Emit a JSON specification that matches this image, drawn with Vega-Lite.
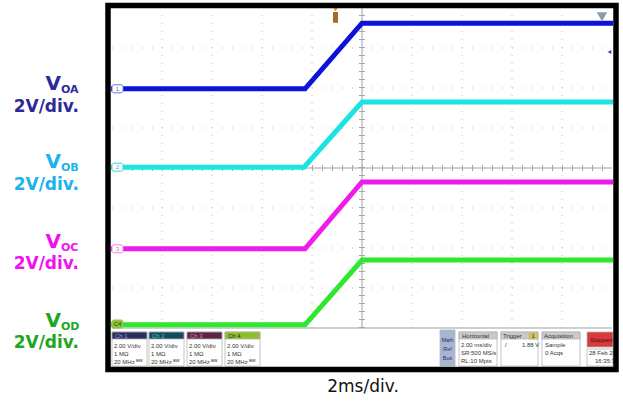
{
  "$schema": "https://vega.github.io/schema/vega-lite/v6.json",
  "width": 623,
  "height": 402,
  "autosize": {"type": "fit", "contains": "padding"},
  "padding": 0,
  "background": "white",
  "config": {"view": {"stroke": null}},
  "datasets": {
    "grid_v": [{"x": -4, "y": 0, "y2": 8}, {"x": -3, "y": 0, "y2": 8}, {"x": -2, "y": 0, "y2": 8}, {"x": -1, "y": 0, "y2": 8}, {"x": 1, "y": 0, "y2": 8}, {"x": 2, "y": 0, "y2": 8}, {"x": 3, "y": 0, "y2": 8}, {"x": 4, "y": 0, "y2": 8}],
    "grid_h": [{"x": -5, "x2": 5, "y": 1}, {"x": -5, "x2": 5, "y": 2}, {"x": -5, "x2": 5, "y": 3}, {"x": -5, "x2": 5, "y": 5}, {"x": -5, "x2": 5, "y": 6}, {"x": -5, "x2": 5, "y": 7}],
    "center": [{"x": 0, "x2": 0, "y": 0, "y2": 8}, {"x": -5, "x2": 5, "y": 4, "y2": 4}, {"x": -5, "x2": 5, "y": 0, "y2": 0}],
    "tick_v": [{"x": 0, "y": 0, "y2": 8}],
    "tick_h": [{"x": -5, "x2": 5, "y": 4}],
    "traces": [
      {"ch": "CH1", "x": -5.02, "y": 5.98}, {"ch": "CH1", "x": -1.14, "y": 5.98}, {"ch": "CH1", "x": 0, "y": 7.62}, {"ch": "CH1", "x": 5.02, "y": 7.62},
      {"ch": "CH2", "x": -5.02, "y": 4.02}, {"ch": "CH2", "x": -1.16, "y": 4.02}, {"ch": "CH2", "x": 0, "y": 5.65}, {"ch": "CH2", "x": 5.02, "y": 5.65},
      {"ch": "CH3", "x": -5.02, "y": 1.98}, {"ch": "CH3", "x": -1.14, "y": 1.98}, {"ch": "CH3", "x": 0, "y": 3.65}, {"ch": "CH3", "x": 5.02, "y": 3.65},
      {"ch": "CH4", "x": -5.02, "y": 0.08}, {"ch": "CH4", "x": -1.14, "y": 0.08}, {"ch": "CH4", "x": 0, "y": 1.7}, {"ch": "CH4", "x": 5.02, "y": 1.7}
    ],
    "badges": [
      {"ch": "CH1", "num": "1", "x": -5.0, "x2": -4.78, "y": 5.88, "y2": 6.08, "ym": 5.98},
      {"ch": "CH2", "num": "2", "x": -5.0, "x2": -4.78, "y": 3.92, "y2": 4.12, "ym": 4.02},
      {"ch": "CH3", "num": "3", "x": -5.0, "x2": -4.78, "y": 1.88, "y2": 2.08, "ym": 1.98},
      {"ch": "CH4", "num": "C4", "x": -5.0, "x2": -4.78, "y": 0.0, "y2": 0.2, "ym": 0.1}
    ],
    "trig_rect": [{"x": -0.58, "x2": -0.48, "y": 7.9, "y2": 7.63}],
    "trig_pt": [{"x": -0.53, "y": 7.97}],
    "gray_mark": [{"x": 4.8, "y": 7.78}],
    "blue_arrow": [{"x": 4.95, "y": 6.9}],
    "info_rects": [
      {"k": "body", "x": -5.0, "x2": -4.3, "y": -0.1, "y2": -0.95},
      {"k": "body", "x": -4.26, "x2": -3.56, "y": -0.1, "y2": -0.95},
      {"k": "body", "x": -3.5, "x2": -2.8, "y": -0.1, "y2": -0.95},
      {"k": "body", "x": -2.74, "x2": -2.04, "y": -0.1, "y2": -0.95},
      {"k": "body", "x": 1.94, "x2": 2.7, "y": -0.1, "y2": -0.95},
      {"k": "body", "x": 2.78, "x2": 3.52, "y": -0.1, "y2": -0.95},
      {"k": "body", "x": 3.6, "x2": 4.36, "y": -0.1, "y2": -0.95},
      {"k": "body", "x": 4.5, "x2": 5.02, "y": -0.525, "y2": -0.95},
      {"k": "h1", "x": -5.0, "x2": -4.3, "y": -0.1, "y2": -0.275},
      {"k": "h2", "x": -4.26, "x2": -3.56, "y": -0.1, "y2": -0.275},
      {"k": "h3", "x": -3.5, "x2": -2.8, "y": -0.1, "y2": -0.275},
      {"k": "h4", "x": -2.74, "x2": -2.04, "y": -0.1, "y2": -0.275},
      {"k": "hg", "x": 1.94, "x2": 2.7, "y": -0.1, "y2": -0.275},
      {"k": "hg", "x": 2.78, "x2": 3.52, "y": -0.1, "y2": -0.275},
      {"k": "hg", "x": 3.6, "x2": 4.36, "y": -0.1, "y2": -0.275},
      {"k": "math", "x": 1.56, "x2": 1.86, "y": -0.05, "y2": -0.95},
      {"k": "stop", "x": 4.5, "x2": 5.02, "y": -0.1, "y2": -0.475},
      {"k": "badge", "x": 3.34, "x2": 3.5, "y": -0.125, "y2": -0.275}
    ],
    "info_text": [
      {"k": "h1", "t": "Ch 1", "x": -4.94, "y": -0.19},
      {"k": "h2", "t": "Ch 2", "x": -4.2, "y": -0.19},
      {"k": "h3", "t": "Ch 3", "x": -3.44, "y": -0.19},
      {"k": "h4", "t": "Ch 4", "x": -2.68, "y": -0.19},
      {"k": "dark", "t": "Horizontal", "x": 2.0, "y": -0.19},
      {"k": "dark", "t": "Trigger", "x": 2.82, "y": -0.19},
      {"k": "dark", "t": "1", "x": 3.39, "y": -0.2},
      {"k": "dark", "t": "Acquisition", "x": 3.64, "y": -0.19},
      {"k": "stop", "t": "Stopped", "x": 4.56, "y": -0.29},
      {"k": "dark", "t": "2.00 V/div", "x": -4.96, "y": -0.45},
      {"k": "dark", "t": "1 MΩ", "x": -4.96, "y": -0.65},
      {"k": "dark", "t": "20 MHz ᴮᵂ", "x": -4.96, "y": -0.85},
      {"k": "dark", "t": "2.00 V/div", "x": -4.22, "y": -0.45},
      {"k": "dark", "t": "1 MΩ", "x": -4.22, "y": -0.65},
      {"k": "dark", "t": "20 MHz ᴮᵂ", "x": -4.22, "y": -0.85},
      {"k": "dark", "t": "2.00 V/div", "x": -3.46, "y": -0.45},
      {"k": "dark", "t": "1 MΩ", "x": -3.46, "y": -0.65},
      {"k": "dark", "t": "20 MHz ᴮᵂ", "x": -3.46, "y": -0.85},
      {"k": "dark", "t": "2.00 V/div", "x": -2.7, "y": -0.45},
      {"k": "dark", "t": "1 MΩ", "x": -2.7, "y": -0.65},
      {"k": "dark", "t": "20 MHz ᴮᵂ", "x": -2.7, "y": -0.85},
      {"k": "dark", "t": "2.00 ms/div", "x": 1.98, "y": -0.43},
      {"k": "dark", "t": "SR:500 MS/s", "x": 1.98, "y": -0.63},
      {"k": "dark", "t": "RL:10 Mpts", "x": 1.98, "y": -0.83},
      {"k": "dark", "t": "/", "x": 2.86, "y": -0.43},
      {"k": "dark", "t": "1.88 V", "x": 3.2, "y": -0.43},
      {"k": "dark", "t": "Sample", "x": 3.66, "y": -0.43},
      {"k": "dark", "t": "0 Acqs", "x": 3.66, "y": -0.63},
      {"k": "dark", "t": "28 Feb 20", "x": 4.54, "y": -0.63},
      {"k": "dark", "t": "16:35:31", "x": 4.66, "y": -0.83}
    ],
    "math_text": [
      {"t": "Math", "x": 1.71, "y": -0.3},
      {"t": "Ref", "x": 1.71, "y": -0.53},
      {"t": "Bus", "x": 1.71, "y": -0.75}
    ],
    "frame": [{"x": -5.08, "x2": 5.08, "y": 8.06, "y2": -1.035}],
    "lab_v": [
      {"lab": "VOA", "t": "V", "x": -6.02, "y": 5.95},
      {"lab": "VOB", "t": "V", "x": -6.02, "y": 4.0},
      {"lab": "VOC", "t": "V", "x": -6.02, "y": 2.0},
      {"lab": "VOD", "t": "V", "x": -6.02, "y": 0.025}
    ],
    "lab_sub": [
      {"lab": "VOA", "t": "OA", "x": -6.02, "y": 5.875},
      {"lab": "VOB", "t": "OB", "x": -6.02, "y": 3.925},
      {"lab": "VOC", "t": "OC", "x": -6.02, "y": 1.925},
      {"lab": "VOD", "t": "OD", "x": -6.02, "y": -0.05}
    ],
    "lab_unit": [
      {"lab": "VOA", "t": "2V/div.", "x": -5.66, "y": 5.4},
      {"lab": "VOB", "t": "2V/div.", "x": -5.66, "y": 3.45},
      {"lab": "VOC", "t": "2V/div.", "x": -5.66, "y": 1.475},
      {"lab": "VOD", "t": "2V/div.", "x": -5.66, "y": -0.5}
    ],
    "bottom": [{"t": "2ms/div.", "x": 0.02, "y": -1.6}]
  },
  "encoding": {
    "x": {"field": "x", "type": "quantitative", "scale": {"domain": [-7.24, 5.22], "nice": false, "zero": false}, "axis": null},
    "y": {"field": "y", "type": "quantitative", "scale": {"domain": [-1.85, 8.2], "nice": false, "zero": false}, "axis": null}
  },
  "layer": [
    {"data": {"name": "grid_v"}, "mark": {"type": "rule", "color": "#BDBDBD", "strokeWidth": 1, "strokeDash": [1, 7]}, "encoding": {"y2": {"field": "y2"}}},
    {"data": {"name": "grid_h"}, "mark": {"type": "rule", "color": "#BDBDBD", "strokeWidth": 1, "strokeDash": [1, 9]}, "encoding": {"x2": {"field": "x2"}}},
    {"data": {"name": "center"}, "mark": {"type": "rule", "color": "#A0A0A0", "strokeWidth": 1}, "encoding": {"x2": {"field": "x2"}, "y2": {"field": "y2"}}},
    {"data": {"name": "tick_v"}, "mark": {"type": "rule", "color": "#A8A8A8", "strokeWidth": 6, "strokeDash": [1, 7]}, "encoding": {"y2": {"field": "y2"}}},
    {"data": {"name": "tick_h"}, "mark": {"type": "rule", "color": "#A8A8A8", "strokeWidth": 6, "strokeDash": [1, 9]}, "encoding": {"x2": {"field": "x2"}}},
    {"data": {"name": "traces"}, "mark": {"type": "line", "strokeWidth": 5, "strokeJoin": "miter"}, "encoding": {"color": {"field": "ch", "type": "nominal", "scale": {"domain": ["CH1", "CH2", "CH3", "CH4"], "range": ["#0B12D9", "#1EE3E3", "#EE1BEE", "#2EE82E"]}, "legend": null}}},
    {"data": {"name": "badges"}, "mark": {"type": "rect", "strokeWidth": 1, "cornerRadius": 2}, "encoding": {"x2": {"field": "x2"}, "y2": {"field": "y2"}, "fill": {"field": "ch", "type": "nominal", "scale": {"domain": ["CH1", "CH2", "CH3", "CH4"], "range": ["#FFFFFF", "#FFFFFF", "#FFFFFF", "#8CC63F"]}, "legend": null}, "stroke": {"field": "ch", "type": "nominal", "scale": {"domain": ["CH1", "CH2", "CH3", "CH4"], "range": ["#6E73E0", "#40D0D8", "#F080E8", "#8CC63F"]}, "legend": null}}},
    {"data": {"name": "badges"}, "mark": {"type": "text", "fontSize": 6, "font": "Liberation Sans", "align": "center", "baseline": "middle"}, "encoding": {"x": {"datum": -4.89, "type": "quantitative"}, "y": {"field": "ym", "type": "quantitative"}, "text": {"field": "num"}, "color": {"field": "ch", "type": "nominal", "scale": {"domain": ["CH1", "CH2", "CH3", "CH4"], "range": ["#5A60D8", "#30B8C8", "#E060D8", "#2A3A10"]}, "legend": null}}},
    {"data": {"name": "trig_rect"}, "mark": {"type": "rect", "color": "#A8682E"}, "encoding": {"x2": {"field": "x2"}, "y2": {"field": "y2"}}},
    {"data": {"name": "trig_pt"}, "mark": {"type": "point", "shape": "triangle-down", "filled": true, "color": "#F08A20", "size": 30, "opacity": 1}},
    {"data": {"name": "gray_mark"}, "mark": {"type": "point", "shape": "triangle-down", "filled": true, "color": "#8C9AAE", "size": 110, "opacity": 1}},
    {"data": {"name": "blue_arrow"}, "mark": {"type": "point", "shape": "triangle-left", "filled": true, "color": "#3040D0", "size": 18, "opacity": 1}},
    {"data": {"name": "info_rects"}, "mark": {"type": "rect", "stroke": "#B5B5B5", "strokeWidth": 0.8}, "encoding": {"x2": {"field": "x2"}, "y2": {"field": "y2"}, "fill": {"field": "k", "type": "nominal", "scale": {"domain": ["body", "h1", "h2", "h3", "h4", "hg", "math", "stop", "badge"], "range": ["#FFFFFF", "#2C2F5E", "#154A5C", "#5E2444", "#8CBF2A", "#CACACA", "#A7B5D5", "#D63C3C", "#D8C832"]}, "legend": null}}},
    {"data": {"name": "info_text"}, "mark": {"type": "text", "fontSize": 6, "font": "Liberation Sans", "align": "left", "baseline": "middle"}, "encoding": {"text": {"field": "t"}, "color": {"field": "k", "type": "nominal", "scale": {"domain": ["dark", "h1", "h2", "h3", "h4", "stop"], "range": ["#333333", "#8F98D0", "#50C8D8", "#E080B0", "#223310", "#4A0A0A"]}, "legend": null}}},
    {"data": {"name": "math_text"}, "mark": {"type": "text", "fontSize": 5.5, "font": "Liberation Sans", "align": "center", "baseline": "middle", "color": "#2A3350"}, "encoding": {"text": {"field": "t"}}},
    {"data": {"name": "frame"}, "mark": {"type": "rect", "fillOpacity": 0, "stroke": "#000000", "strokeWidth": 5.5}, "encoding": {"x2": {"field": "x2"}, "y2": {"field": "y2"}}},
    {"data": {"name": "lab_v"}, "mark": {"type": "text", "fontSize": 20, "font": "DejaVu Sans", "fontWeight": "bold", "align": "right", "baseline": "alphabetic"}, "encoding": {"text": {"field": "t"}, "color": {"field": "lab", "type": "nominal", "scale": {"domain": ["VOA", "VOB", "VOC", "VOD"], "range": ["#2E2A98", "#1CB2EC", "#F20FF0", "#1EA61E"]}, "legend": null}}},
    {"data": {"name": "lab_sub"}, "mark": {"type": "text", "fontSize": 11, "font": "DejaVu Sans", "fontWeight": "bold", "align": "left", "baseline": "alphabetic"}, "encoding": {"text": {"field": "t"}, "color": {"field": "lab", "type": "nominal", "scale": {"domain": ["VOA", "VOB", "VOC", "VOD"], "range": ["#2E2A98", "#1CB2EC", "#F20FF0", "#1EA61E"]}, "legend": null}}},
    {"data": {"name": "lab_unit"}, "mark": {"type": "text", "fontSize": 17, "font": "DejaVu Sans", "fontWeight": "bold", "align": "right", "baseline": "alphabetic"}, "encoding": {"text": {"field": "t"}, "color": {"field": "lab", "type": "nominal", "scale": {"domain": ["VOA", "VOB", "VOC", "VOD"], "range": ["#2E2A98", "#1CB2EC", "#F20FF0", "#1EA61E"]}, "legend": null}}},
    {"data": {"name": "bottom"}, "mark": {"type": "text", "fontSize": 17, "font": "DejaVu Sans", "align": "center", "baseline": "alphabetic", "color": "#111111"}, "encoding": {"text": {"field": "t"}}}
  ],
  "resolve": {"scale": {"color": "independent", "fill": "independent", "stroke": "independent"}}
}
